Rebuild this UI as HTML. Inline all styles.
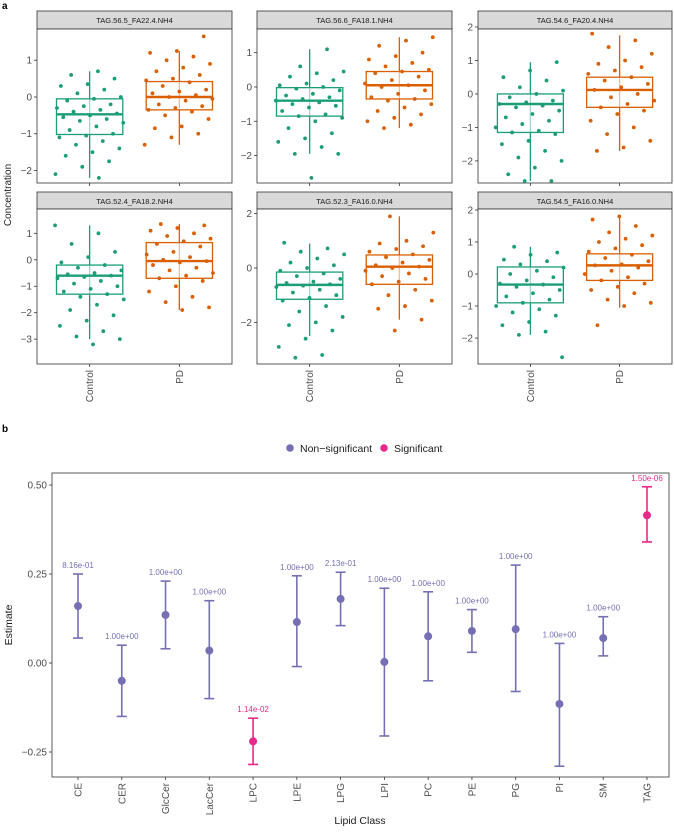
<!DOCTYPE html>
<html><head><meta charset="utf-8">
<style>
html,body{margin:0;padding:0;background:#fff;width:674px;height:833px;overflow:hidden}
svg{display:block;font-family:"Liberation Sans",Arial,sans-serif}
</style></head>
<body>
<svg id="fig" width="674" height="833" viewBox="0 0 674 833"></svg>
<script>
// ---------- Panel a data ----------
const panelTitles = ["TAG.56.5_FA22.4.NH4","TAG.56.6_FA18.1.NH4","TAG.54.6_FA20.4.NH4","TAG.52.4_FA18.2.NH4","TAG.52.3_FA16.0.NH4","TAG.54.5_FA16.0.NH4"];
const groups = ["Control","PD"];
const panelDomains = [[-2.34,1.85],[-2.8,1.69],[-2.66,1.94],[-3.94,1.92],[-3.53,2.17],[-2.81,2.03]];
const panelTicks = [[-2,-1,0,1],[-2,-1,0,1],[-2,-1,0,1,2],[-3,-2,-1,0,1],[-2,0,2],[-2,-1,0,1,2]];
// box stats: [whiskerLow, q1, median, q3, whiskerHigh]
const boxControl = [[-2.2,-1.02,-0.47,-0.05,0.7],[-1.95,-0.85,-0.4,-0.02,1.1],[-2.6,-1.15,-0.3,0.0,0.95],[-3.0,-1.3,-0.6,-0.2,1.3],[-2.5,-1.15,-0.62,-0.15,0.9],[-1.9,-0.9,-0.33,0.22,0.85]];
const boxPD = [[-1.3,-0.35,0.0,0.42,1.25],[-1.2,-0.35,0.05,0.45,1.45],[-1.7,-0.4,0.12,0.5,1.75],[-1.9,-0.7,-0.05,0.65,1.35],[-1.9,-0.6,0.05,0.48,1.9],[-1.05,-0.2,0.27,0.63,1.78]];
const ptsControl = [
 [0.7,0.6,0.5,0.35,0.3,0.2,0.1,0.0,-0.05,-0.1,-0.2,-0.25,-0.3,-0.35,-0.4,-0.45,-0.5,-0.55,-0.6,-0.65,-0.7,-0.8,-0.9,-1.0,-1.05,-1.1,-1.2,-1.3,-1.4,-1.5,-1.6,-1.75,-1.9,-2.1,-2.2],
 [1.1,0.6,0.45,0.4,0.3,0.2,0.1,0.05,0.0,-0.05,-0.1,-0.2,-0.25,-0.3,-0.35,-0.4,-0.45,-0.5,-0.55,-0.6,-0.7,-0.8,-0.85,-0.9,-1.0,-1.2,-1.35,-1.5,-1.6,-1.75,-1.95,-1.95,-2.65],
 [0.95,0.7,0.5,0.4,0.2,0.1,0.0,-0.1,-0.2,-0.25,-0.3,-0.35,-0.4,-0.5,-0.6,-0.7,-0.8,-0.9,-1.0,-1.1,-1.15,-1.2,-1.4,-1.5,-1.7,-1.9,-2.0,-2.2,-2.4,-2.6,-2.6],
 [1.3,1.0,0.6,0.3,0.1,-0.1,-0.2,-0.3,-0.4,-0.5,-0.55,-0.6,-0.65,-0.7,-0.8,-0.9,-1.0,-1.1,-1.2,-1.3,-1.4,-1.5,-1.7,-1.9,-2.1,-2.3,-2.5,-2.7,-2.9,-3.0,-3.2],
 [0.93,0.72,0.6,0.5,0.35,0.2,0.1,0.0,-0.1,-0.2,-0.3,-0.4,-0.5,-0.55,-0.6,-0.65,-0.7,-0.8,-0.9,-1.0,-1.1,-1.2,-1.4,-1.6,-1.8,-2.0,-2.1,-2.3,-2.6,-2.9,-3.2,-3.3],
 [0.85,0.67,0.6,0.45,0.4,0.3,0.2,0.1,0.0,-0.1,-0.2,-0.3,-0.33,-0.4,-0.5,-0.6,-0.7,-0.8,-0.9,-1.0,-1.1,-1.2,-1.3,-1.5,-1.6,-1.8,-1.9,-2.6]
];
const ptsPD = [
 [1.65,1.25,1.2,1.1,1.0,0.9,0.8,0.7,0.6,0.5,0.45,0.4,0.3,0.2,0.15,0.1,0.05,0.0,-0.05,-0.1,-0.2,-0.25,-0.3,-0.35,-0.4,-0.5,-0.6,-0.8,-0.85,-1.0,-1.1,-1.3],
 [1.45,1.35,1.2,1.0,0.9,0.8,0.7,0.6,0.5,0.45,0.4,0.3,0.2,0.1,0.05,0.0,-0.1,-0.2,-0.3,-0.35,-0.4,-0.5,-0.6,-0.7,-0.8,-0.9,-1.0,-1.1,-1.2],
 [1.8,1.6,1.4,1.2,1.0,0.9,0.8,0.7,0.6,0.5,0.4,0.3,0.2,0.12,0.0,-0.1,-0.2,-0.3,-0.4,-0.5,-0.6,-0.8,-1.0,-1.2,-1.4,-1.6,-1.7],
 [1.35,1.3,1.2,1.1,1.0,0.9,0.8,0.7,0.6,0.5,0.3,0.2,0.1,0.0,-0.05,-0.1,-0.2,-0.3,-0.4,-0.5,-0.6,-0.7,-0.8,-1.0,-1.2,-1.4,-1.6,-1.8,-1.9],
 [1.9,1.3,1.0,0.9,0.8,0.7,0.6,0.5,0.4,0.3,0.2,0.1,0.05,0.0,-0.1,-0.2,-0.3,-0.4,-0.5,-0.6,-0.8,-1.0,-1.2,-1.4,-1.5,-1.9,-2.3],
 [1.8,1.7,1.5,1.3,1.2,1.1,1.0,0.9,0.8,0.7,0.6,0.5,0.4,0.3,0.27,0.2,0.1,0.0,-0.1,-0.2,-0.3,-0.4,-0.5,-0.6,-0.8,-0.9,-1.0,-1.6]
];
// ---------- Panel b data ----------
const lipidClasses = ["CE","CER","GlcCer","LacCer","LPC","LPE","LPG","LPI","PC","PE","PG","PI","SM","TAG"];
const estimates = [0.16,-0.05,0.135,0.035,-0.22,0.115,0.18,0.003,0.075,0.09,0.095,-0.115,0.07,0.415];
const lowerCI = [0.07,-0.15,0.04,-0.10,-0.285,-0.01,0.105,-0.205,-0.05,0.03,-0.08,-0.29,0.02,0.34];
const upperCI = [0.25,0.05,0.23,0.175,-0.155,0.245,0.255,0.21,0.20,0.15,0.275,0.055,0.13,0.495];
const pLabels = ["8.16e-01","1.00e+00","1.00e+00","1.00e+00","1.14e-02","1.00e+00","2.13e-01","1.00e+00","1.00e+00","1.00e+00","1.00e+00","1.00e+00","1.00e+00","1.50e-06"];
const significant = [false,false,false,false,true,false,false,false,false,false,false,false,false,true];
const bTicks = [-0.25,0.00,0.25,0.50];

const NS="http://www.w3.org/2000/svg";
const svg=document.getElementById('fig');
function mk(tag,attrs,parent){const e=document.createElementNS(NS,tag);for(const k in attrs)e.setAttribute(k,attrs[k]);(parent||svg).appendChild(e);return e;}
function txt(s,attrs,parent){const e=mk('text',attrs,parent);e.textContent=s;return e;}

const GREEN="#1b9e77",ORANGE="#d95f02",AXIS="#333",TICKC="#4d4d4d";
txt("a",{x:2,y:9,'font-size':10,'font-weight':'bold'});
txt("b",{x:2,y:432,'font-size':10,'font-weight':'bold'});
const yt=txt("Concentration",{x:0,y:0,'font-size':10,fill:'#222','text-anchor':'middle',transform:'translate(11,195) rotate(-90)'});


const colX=[[37,232],[257,452],[478,672]];
const rowY=[[11,29,183],[192,209,364]];
for(let p=0;p<6;p++){
  const c=p%3,r=Math.floor(p/3);
  const [x0,x1]=colX[c],[st,y0,y1]=rowY[r];
  const w=x1-x0;
  const g=mk('g',{});
  
  
  const s=mk('rect',{x:x0,y:st,width:w,height:y0-st,fill:'#d9d9d9',stroke:AXIS,'stroke-width':0.8},g);
  
  txt(panelTitles[p],{x:(x0+x1)/2,y:st+12,'font-size':7.5,'text-anchor':'middle',fill:'#1a1a1a'},g);
  const [dmin,dmax]=panelDomains[p];
  const ys=v=>y1-(v-dmin)/(dmax-dmin)*(y1-y0);
  mk('rect',{x:x0,y:y0,width:w,height:y1-y0,fill:'#fff',stroke:AXIS,'stroke-width':0.8},g);
  panelTicks[p].forEach(t=>{
    const yy=ys(t);
    mk('line',{x1:x0-3,x2:x0,y1:yy,y2:yy,stroke:AXIS,'stroke-width':0.8},g);
    txt(t<0?'\u2212'+(-t):String(t),{x:x0-5,y:yy+3.5,'font-size':10,'text-anchor':'end',fill:TICKC},g);
  });
  const gx=[x0+0.27*w,x0+0.73*w];
  const boxes=[boxControl[p],boxPD[p]],pts=[ptsControl[p],ptsPD[p]],cols=[GREEN,ORANGE];
  for(let k=0;k<2;k++){
    const cx=gx[k],b=boxes[k],col=cols[k],bw=0.17*w;
    const bg=mk('g',{},g);
    
    
    mk('line',{x1:cx,x2:cx,y1:ys(b[0]),y2:ys(b[4]),stroke:col,'stroke-width':1.3},bg);
    mk('rect',{x:cx-bw,y:ys(b[3]),width:2*bw,height:ys(b[1])-ys(b[3]),fill:'#fff','fill-opacity':0.6,stroke:col,'stroke-width':1.3},bg);
    pts[k].forEach((v,i)=>{
      const f=((i+1+k*0.37+p*0.21)*0.6180339)%1;
      const jit=(f-0.5)*0.36*w;
      const d=mk('circle',{cx:cx+jit,cy:ys(v),r:1.9,fill:col},bg);
      
      
    });
    mk('line',{x1:cx-bw,x2:cx+bw,y1:ys(b[2]),y2:ys(b[2]),stroke:col,'stroke-width':2.4},bg);
    mk('line',{x1:cx,x2:cx,y1:y1,y2:y1+3,stroke:AXIS,'stroke-width':0.8},g);
    if(r===1){
      const tl=txt(groups[k],{x:0,y:0,'font-size':10,'text-anchor':'end',fill:TICKC,transform:`translate(${cx+3.5},${y1+6}) rotate(-90)`},g);
      
    }
  }
}

// ---------- Panel b ----------
const PUR="#7570b3",PINK="#e7298a";
const bx0=52,bx1=669,by0=473,by1=777;
const yb=v=>663-v*356;
const xb=i=>78+i*((647-78)/13);
const lg=mk('g',{});
const l1=mk('g',{},lg);
mk('circle',{cx:290,cy:448,r:3.8,fill:PUR},l1);
txt("Non\u2212significant",{x:300,y:452,'font-size':10.5,fill:'#1a1a1a'},l1);
const l2=mk('g',{},lg);
mk('circle',{cx:384,cy:448,r:3.8,fill:PINK},l2);
txt("Significant",{x:394,y:452,'font-size':10.5,fill:'#1a1a1a'},l2);

const pb=mk('rect',{x:bx0,y:by0,width:bx1-bx0,height:by1-by0,fill:'none',stroke:AXIS,'stroke-width':0.8});

bTicks.forEach(t=>{
  const yy=yb(t);
  mk('line',{x1:bx0-3,x2:bx0,y1:yy,y2:yy,stroke:AXIS,'stroke-width':0.8});
  const s=t.toFixed(2);
  txt(t<0?'\u2212'+s.slice(1):s,{x:bx0-5,y:yy+3.5,'font-size':10,'text-anchor':'end',fill:TICKC});
});
lipidClasses.forEach((c,i)=>{
  const x=xb(i),col=significant[i]?PINK:PUR;
  const g=mk('g',{});
  
  
  mk('line',{x1:x,x2:x,y1:yb(lowerCI[i]),y2:yb(upperCI[i]),stroke:col,'stroke-width':1.6},g);
  mk('line',{x1:x-5,x2:x+5,y1:yb(lowerCI[i]),y2:yb(lowerCI[i]),stroke:col,'stroke-width':1.6},g);
  mk('line',{x1:x-5,x2:x+5,y1:yb(upperCI[i]),y2:yb(upperCI[i]),stroke:col,'stroke-width':1.6},g);
  mk('circle',{cx:x,cy:yb(estimates[i]),r:4,fill:col},g);
  txt(pLabels[i],{x:x,y:yb(upperCI[i])-6,'font-size':8,'text-anchor':'middle',fill:col},g);
  mk('line',{x1:x,x2:x,y1:by1,y2:by1+3,stroke:AXIS,'stroke-width':0.8});
  const tl=txt(c,{x:0,y:0,'font-size':10,'text-anchor':'end',fill:TICKC,transform:`translate(${x+3.5},${by1+6}) rotate(-90)`});
  
});
const xt=txt("Lipid Class",{x:360,y:824,'font-size':10.5,'text-anchor':'middle',fill:'#1a1a1a'});

const et=txt("Estimate",{x:0,y:0,'font-size':10.5,'text-anchor':'middle',fill:'#1a1a1a',transform:'translate(12,625) rotate(-90)'});

</script>
</body></html>
